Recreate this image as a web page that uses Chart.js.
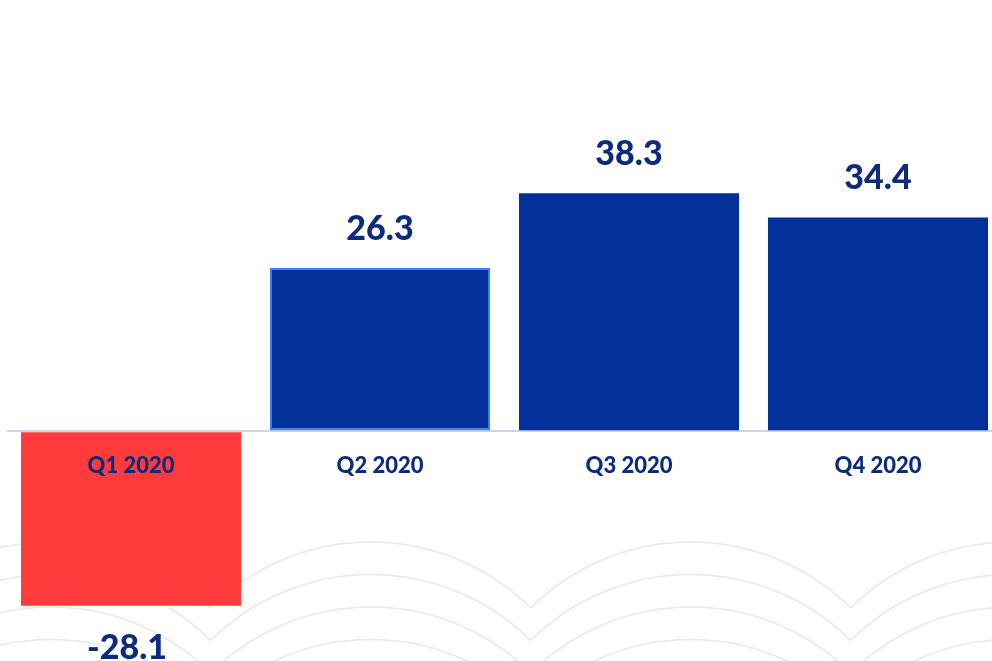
<!DOCTYPE html>
<html>
<head>
<meta charset="utf-8">
<script src="https://cdn.jsdelivr.net/npm/chart.js@4/dist/chart.umd.min.js"></script>
<style>
  html, body { margin: 0; padding: 0; background: #fff; overflow: hidden; }
  #wrap { position: relative; width: 1010px; height: 661px; }
</style>
</head>
<body>
<div id="wrap"><canvas id="myChart"></canvas></div>
<script>
  const quarters = ['Q1 2020', 'Q2 2020', 'Q3 2020', 'Q4 2020'];
  const values = [-28.1, 26.3, 38.3, 34.4];
  const barColors = ['#ff3b3b', '#03309a', '#03309a', '#03309a'];
  const borderColors = ['#ff3b3b', '#3a7bff', '#03309a', '#03309a'];
  const borderWidths = [0, 2, 0, 0];

  const labelColor = '#0c2a7e';

  // faint scalloped arcs behind the chart
  const backdrop = {
    id: 'backdrop',
    beforeDraw(chart) {
      const ctx = chart.ctx;
      const R = 227, half = 160, a = Math.asin(half / R);
      ctx.save();
      ctx.strokeStyle = '#e9e9e9';
      ctx.lineWidth = 1.6;
      for (let row = 0; row < 5; row++) {
        const cy = 542 + R + row * 32.5;
        for (let cx = -269.3; cx < 1200; cx += 320) {
          ctx.beginPath();
          ctx.arc(cx, cy, R, -Math.PI / 2 - a, -Math.PI / 2 + a);
          ctx.stroke();
        }
      }
      ctx.restore();
    }
  };

  // category names under the zero line + value labels
  const barLabels = {
    id: 'barLabels',
    afterDatasetsDraw(chart) {
      const ctx = chart.ctx;
      const y = chart.scales.y;
      const zero = y.getPixelForValue(0);
      const meta = chart.getDatasetMeta(0);
      ctx.save();
      ctx.fillStyle = labelColor;
      ctx.textAlign = 'center';
      ctx.textBaseline = 'middle';
      meta.data.forEach((bar, i) => {
        ctx.font = '900 22px Lato';
        ctx.fillText(quarters[i], bar.x, zero + 35);
        ctx.font = '900 34px Lato';
        const v = values[i];
        const top = y.getPixelForValue(v);
        ctx.fillText(v.toFixed(1), bar.x - (v < 0 ? 4 : 0), v >= 0 ? top - 39 : top + 42);
      });
      ctx.restore();
    }
  };

  const config = {
    type: 'bar',
    data: {
      labels: quarters,
      datasets: [{
        data: values,
        backgroundColor: barColors,
        borderColor: borderColors,
        borderWidth: borderWidths,
        borderSkipped: false,
        barPercentage: 0.8835,
        categoryPercentage: 1
      }]
    },
    options: {
      responsive: true,
      maintainAspectRatio: false,
      animation: false,
      layout: { padding: { left: 6.5, right: 7.5, top: 0, bottom: 0 } },
      plugins: { legend: { display: false }, tooltip: { enabled: false } },
      scales: {
        x: { display: false },
        y: {
          min: -37,
          max: 69.4,
          afterFit: (s) => { s.width = 0; },
          border: { display: false },
          ticks: { display: false },
          grid: {
            drawTicks: false,
            lineWidth: 2,
            color: (c) => c.tick && c.tick.value === 0 ? '#c8d0f3' : 'rgba(0,0,0,0)'
          }
        }
      }
    },
    plugins: [backdrop, barLabels]
  };

  const myChart = new Chart(document.getElementById('myChart'), config);
</script>
</body>
</html>
